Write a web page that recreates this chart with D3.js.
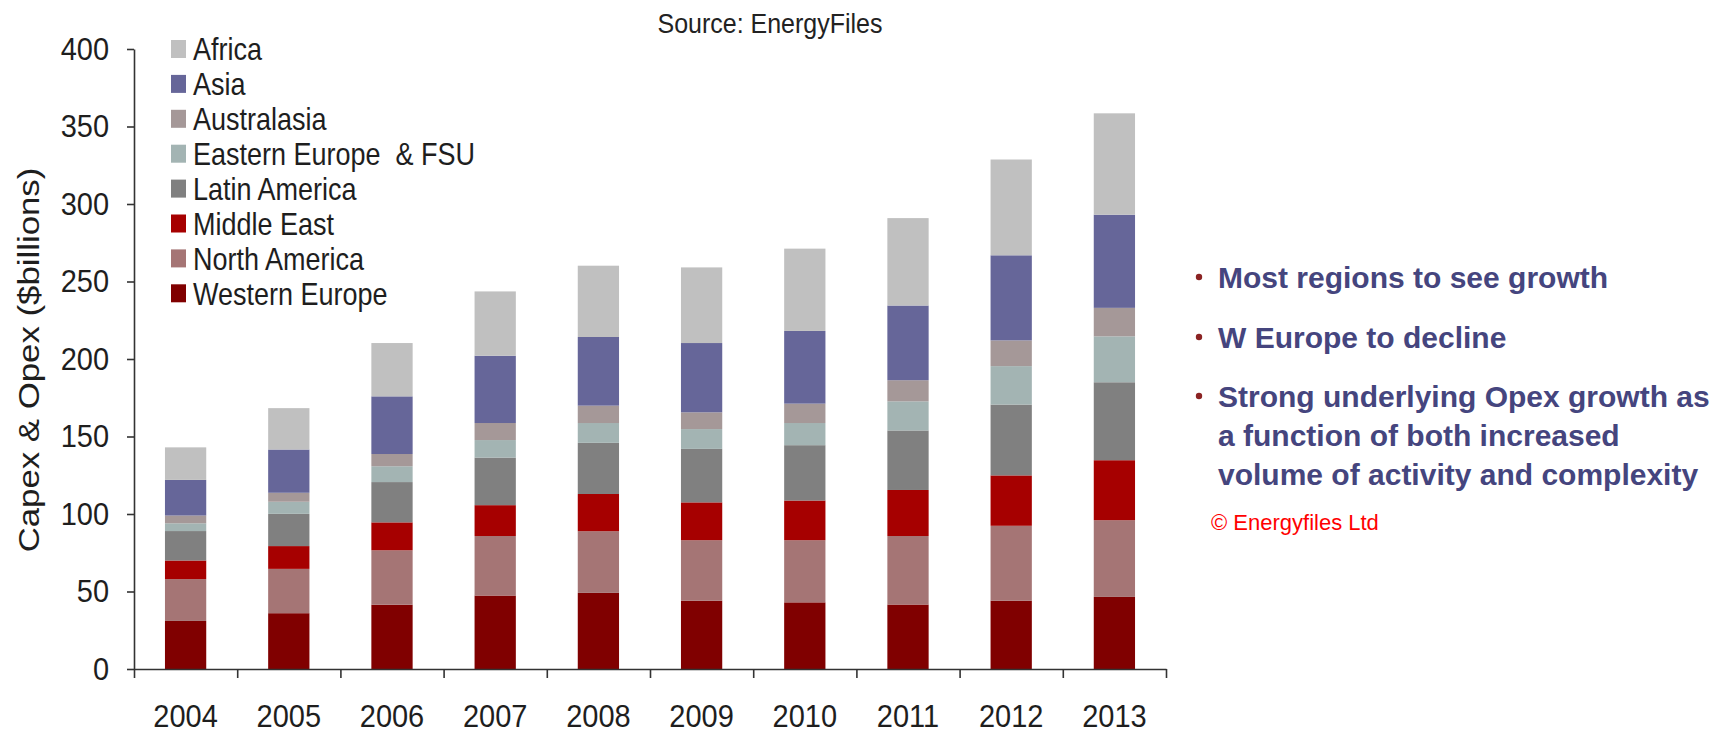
<!DOCTYPE html>
<html>
<head>
<meta charset="utf-8">
<script src="https://cdnjs.cloudflare.com/ajax/libs/d3/7.8.5/d3.min.js"></script>
<style>
  body { margin: 0; background: #fff; }
  svg { font-family: "Liberation Sans", Arial, sans-serif; display: block; }
  .tall { transform-box: fill-box; transform-origin: center; transform: scaleY(1.1); }
  .tall-legend { transform-box: fill-box; transform-origin: center; transform: scaleY(1.16); }
  .long { transform-box: fill-box; transform-origin: center; transform: scaleX(1.16); }
</style>
</head>
<body>
<div id="chart"></div>
<script>
// Data ($billions)
const years = ["2004", "2005", "2006", "2007", "2008", "2009", "2010", "2011", "2012", "2013"];
const westernEurope = [31, 36, 41.5, 47.4, 49.1, 44.1, 43, 41.6, 44.1, 46.5];
const northAmerica  = [27, 28.6, 35.1, 38.4, 39.8, 39, 40.1, 44.2, 48.3, 49.5];
const middleEast    = [12, 14.7, 18, 19.9, 24, 24.4, 25.6, 29.7, 32.5, 38.7];
const latinAmerica  = [19, 20.8, 26, 30.7, 33, 34.5, 35.7, 38.4, 45.7, 50.3];
const easternEurope = [5, 7.8, 10.2, 11.3, 12.8, 12.8, 14.3, 18.8, 24.8, 29.6];
const australasia   = [5, 5.8, 7.9, 11, 11.2, 10.8, 12.5, 13.6, 16.6, 18.4];
const asia          = [23, 27.9, 37.2, 43.4, 44.3, 44.7, 46.9, 48.2, 54.9, 60.1];
const africa        = [21, 26.7, 34.4, 41.5, 46, 48.8, 53.1, 56.4, 61.8, 65.4];
const yTicks = [0, 50, 100, 150, 200, 250, 300, 350, 400];

// bottom to top stacking order
const series = [
  { name: "Western Europe", values: westernEurope, color: "#800000" },
  { name: "North America", values: northAmerica, color: "#a57575" },
  { name: "Middle East", values: middleEast, color: "#a60000" },
  { name: "Latin America", values: latinAmerica, color: "#808080" },
  { name: "Eastern Europe  & FSU", values: easternEurope, color: "#a3b4b3" },
  { name: "Australasia", values: australasia, color: "#a59898" },
  { name: "Asia", values: asia, color: "#666699" },
  { name: "Africa", values: africa, color: "#c0c0c0" }
];

const notes = [
  ["Most regions to see growth"],
  ["W Europe to decline"],
  ["Strong underlying Opex growth as", "a function of both increased", "volume of activity and complexity"]
];

// table for d3.stack
const table = years.map((yr, i) => {
  const row = { year: yr };
  series.forEach(s => row[s.name] = s.values[i]);
  return row;
});

const svg = d3.select("#chart")
  .append("svg")
  .attr("width", 1726)
  .attr("height", 735);

const x = d3.scaleBand()
  .domain(years)
  .range([134, 1166])
  .paddingInner(0.6)
  .paddingOuter(0.3);

const y = d3.scaleLinear()
  .domain([0, 400])
  .range([669, 49]);

const stacked = d3.stack().keys(series.map(s => s.name))(table);

// Bars
svg.append("g")
  .selectAll("g")
  .data(stacked)
  .enter()
  .append("g")
  .attr("fill", (d, i) => series[i].color)
  .selectAll("rect")
  .data(d => d)
  .enter()
  .append("rect")
  .attr("x", d => x(d.data.year))
  .attr("y", d => y(d[1]))
  .attr("width", x.bandwidth())
  .attr("height", d => y(d[0]) - y(d[1]));

// Y axis
const yAxis = svg.append("g")
  .attr("transform", "translate(134,0)")
  .call(d3.axisLeft(y).tickValues(yTicks).tickSize(7).tickPadding(18).tickSizeOuter(0));
yAxis.selectAll("text")
  .attr("class", "tall")
  .attr("fill", "#1e1e1e")
  .style("font-size", "29px");

// X axis labels
const xAxis = svg.append("g")
  .attr("transform", "translate(0,669)")
  .call(d3.axisBottom(x).tickSize(0).tickPadding(36).tickSizeOuter(0));
xAxis.selectAll("text")
  .attr("class", "tall")
  .attr("fill", "#1e1e1e")
  .style("font-size", "29px");

// X ticks between the categories
const xEdge = d3.scaleLinear().domain([0, years.length]).range(x.range());
const edges = svg.append("g")
  .attr("transform", "translate(0,669)")
  .call(d3.axisBottom(xEdge).ticks(years.length).tickSize(9).tickFormat(""));
edges.select(".domain").remove();

svg.selectAll(".domain, .tick line")
  .attr("stroke", "#333")
  .attr("stroke-width", 1.6);

// Y axis title
svg.append("g")
  .attr("transform", "translate(38.5,360) rotate(-90)")
  .append("text")
  .attr("class", "long")
  .attr("text-anchor", "middle")
  .attr("fill", "#1e1e1e")
  .style("font-size", "30px")
  .text("Capex & Opex ($billions)");

// Source line
svg.append("text")
  .attr("class", "tall")
  .attr("x", 770)
  .attr("y", 32)
  .attr("text-anchor", "middle")
  .attr("fill", "#222")
  .style("font-size", "25px")
  .text("Source: EnergyFiles");

// Legend (top to bottom is the reverse of stacking)
const legend = svg.append("g")
  .selectAll("g")
  .data(series.slice().reverse())
  .enter()
  .append("g")
  .attr("transform", (d, i) => `translate(171,${49 + i * 34.9})`);

legend.append("rect")
  .attr("x", 0)
  .attr("y", -9)
  .attr("width", 15)
  .attr("height", 18)
  .attr("fill", d => d.color);

legend.append("text")
  .attr("class", "tall-legend")
  .attr("x", 22)
  .attr("dy", "0.36em")
  .attr("fill", "#1e1e1e")
  .style("font-size", "27px")
  .style("white-space", "pre")
  .text(d => d.name);

// Bullet notes on the right
const baselines = [[287.5], [347.5], [406.5, 445.5, 484.5]];
const notesG = svg.append("g");
notes.forEach((lines, i) => {
  notesG.append("circle")
    .attr("cx", 1199)
    .attr("cy", baselines[i][0] - 10.5)
    .attr("r", 3.2)
    .attr("fill", "#8b2323");
  lines.forEach((line, j) => {
    notesG.append("text")
      .attr("x", 1218)
      .attr("y", baselines[i][j])
      .attr("fill", "#45457e")
      .style("font-size", "30px")
      .style("font-weight", "bold")
      .text(line);
  });
});

svg.append("text")
  .attr("x", 1211)
  .attr("y", 530)
  .attr("fill", "#ff0000")
  .style("font-size", "22px")
  .text("© Energyfiles Ltd");
</script>
</body>
</html>
